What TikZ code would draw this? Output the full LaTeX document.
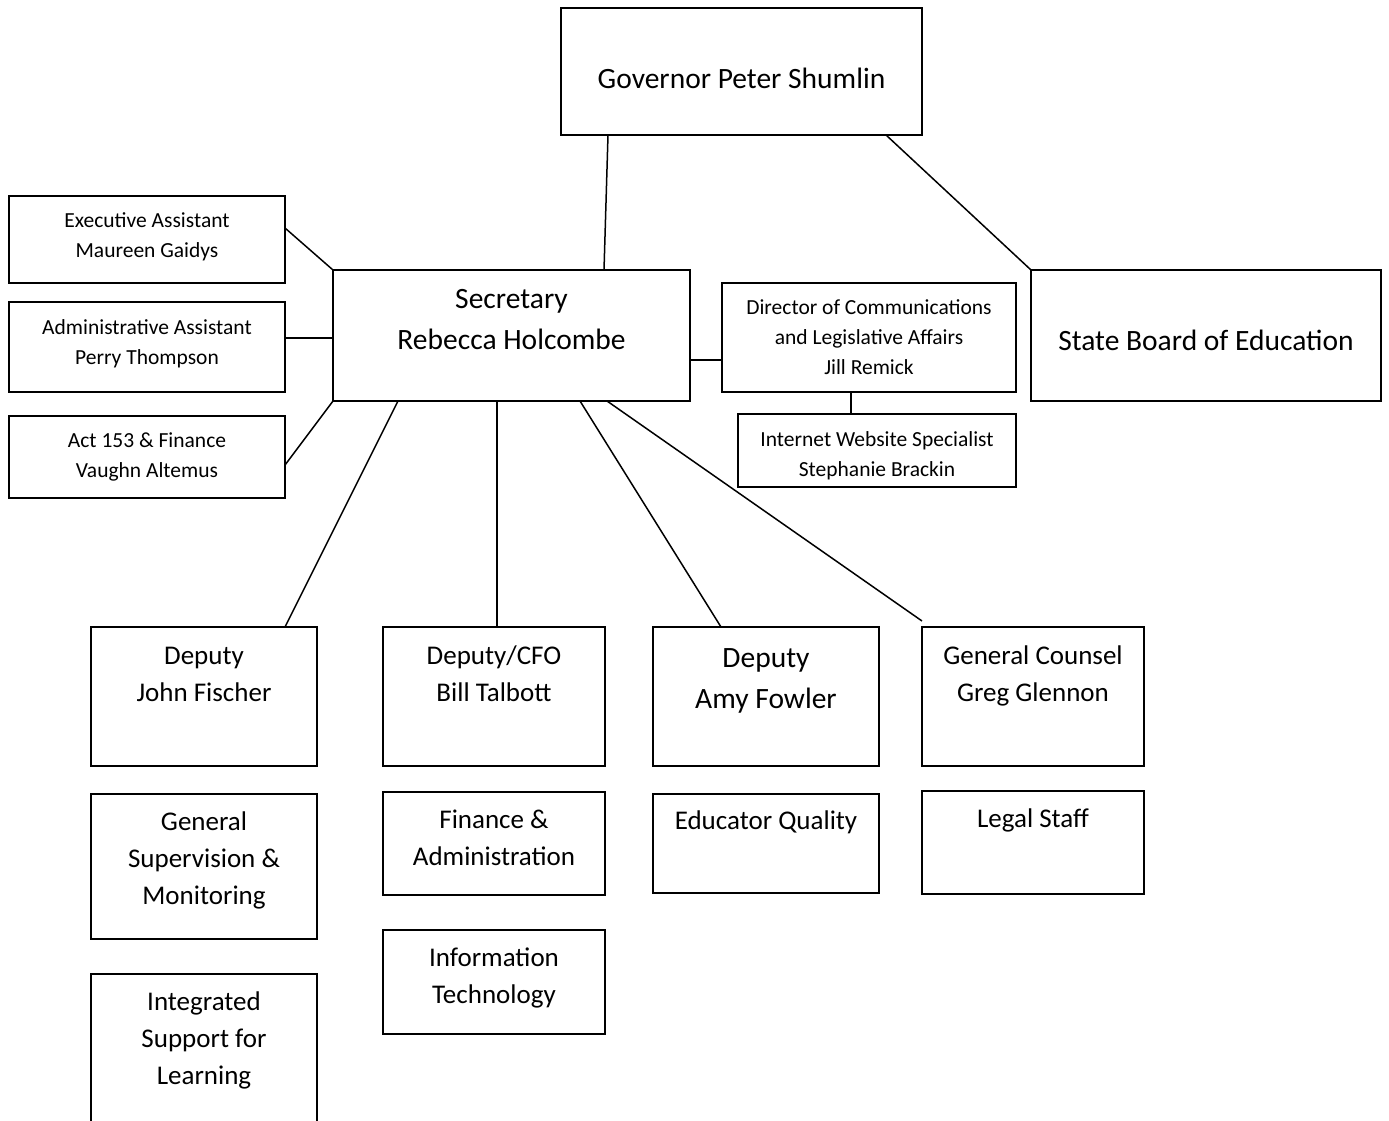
\documentclass[tikz,border=0pt]{standalone}
\usepackage{fontspec}
\setmainfont{Carlito}
\usetikzlibrary{calc}
\begin{document}
\begin{tikzpicture}[x=1pt,y=-1pt,
  box/.style={draw, line width=1.8pt, inner sep=0pt, outer sep=0pt},
  conn/.style={line width=1.5pt},
  txt/.style={align=center, anchor=base, inner sep=0pt, yshift=-1.5pt},
  big/.style={txt, font=\fontsize{29.5}{41.8}\selectfont},
  mid/.style={txt, font=\fontsize{27}{37}\selectfont},
  sml/.style={txt, font=\fontsize{21.5}{30}\selectfont}]
\useasboundingbox (0,0) rectangle (1389,1121);
\clip (0,0) rectangle (1389,1121);
% boxes
\node[box, minimum width=361pt, minimum height=127pt] (gov) at (741.5,71.5) {};
\node[box, minimum width=357pt, minimum height=131pt] (sec) at (511.5,335.5) {};
\node[box, minimum width=350pt, minimum height=131pt] (sbe) at (1206,335.5) {};
\node[box, minimum width=276pt, minimum height=87pt] (exa) at (147,239.5) {};
\node[box, minimum width=276pt, minimum height=90pt] (ada) at (147,347) {};
\node[box, minimum width=276pt, minimum height=82pt] (act) at (147,457) {};
\node[box, minimum width=294pt, minimum height=109pt] (dir) at (869,337.5) {};
\node[box, minimum width=278pt, minimum height=73pt] (web) at (877,450.5) {};
\node[box, minimum width=226pt, minimum height=139pt] (fis) at (204,696.5) {};
\node[box, minimum width=222pt, minimum height=139pt] (cfo) at (494,696.5) {};
\node[box, minimum width=226pt, minimum height=139pt] (fow) at (766,696.5) {};
\node[box, minimum width=222pt, minimum height=139pt] (gc) at (1033,696.5) {};
\node[box, minimum width=226pt, minimum height=145pt] (gsm) at (204,866.5) {};
\node[box, minimum width=226pt, minimum height=161pt] (isl) at (204,1054.5) {};
\node[box, minimum width=222pt, minimum height=103pt] (fa) at (494,843.5) {};
\node[box, minimum width=222pt, minimum height=104pt] (it) at (494,982) {};
\node[box, minimum width=226pt, minimum height=99pt] (eq) at (766,843.5) {};
\node[box, minimum width=222pt, minimum height=103pt] (ls) at (1033,842.5) {};
% texts (y = baseline of last line)
\node[big] (govt) at (741.5,87) {Governor Peter Shumlin};
\node[big] (sect) at (511.5,348.3) {Secretary\\Rebecca Holcombe};
\node[big] (sbet) at (1206,349.3) {State Board of Education};
\node[sml] (exat) at (147,256) {Executive Assistant\\Maureen Gaidys};
\node[sml] (adat) at (147,362.7) {Administrative Assistant\\Perry Thompson};
\node[sml] (actt) at (147,476) {Act 153 \& Finance\\Vaughn Altemus};
\node[sml] (dirt) at (869,373.3) {Director of Communications\\and Legislative Affairs\\Jill Remick};
\node[sml] (webt) at (877,475) {Internet Website Specialist\\Stephanie Brackin};
\node[mid] (fist) at (204,700) {Deputy\\John Fischer};
\node[mid] (cfot) at (494,700) {Deputy/CFO\\Bill Talbott};
\node[big] (fowt) at (766,707.3) {Deputy\\Amy Fowler};
\node[mid] (gct) at (1033,700) {General Counsel\\Greg Glennon};
\node[mid] (gsmt) at (204,903) {General\\Supervision \&\\Monitoring};
\node[mid] (islt) at (204,1083) {Integrated\\Support for\\Learning};
\node[mid] (fat) at (494,864) {Finance \&\\Administration};
\node[mid] (itt) at (494,1002) {Information\\Technology};
\node[mid] (eqt) at (766,828.3) {Educator Quality};
\node[mid] (lst) at (1033,826) {Legal Staff};
% connectors
\draw[conn] ($(gov.south west)+(47,0)$) -- ($(sec.north west)+(271,0)$);
\draw[conn] ($(gov.south east)+(-36,0)$) -- (sbe.north west);
\draw[conn] ($(exa.north east)+(0,32)$) -- (sec.north west);
\draw[conn] ($(ada.east)+(0,-9)$) -- ($(sec.west)+(0,2.5)$);
\draw[conn] ($(act.east)+(0,8)$) -- (sec.south west);
\draw[conn] ($(sec.east)+(0,24.5)$) -- ($(dir.west)+(0,22.5)$);
\draw[conn] ($(dir.south)+(-18,0)$) -- ($(web.north)+(-26,0)$);
\draw[conn] ($(sec.south west)+(65,0)$) -- ($(fis.north east)+(-32,0)$);
\draw[conn] ($(sec.south west)+(164,0)$) -- ($(cfo.north)+(3,0)$);
\draw[conn] ($(sec.south west)+(247,0)$) -- ($(fow.north west)+(68,0)$);
\draw[conn] ($(sec.south west)+(274,0)$) -- ($(gc.north west)+(0,-6)$);
\end{tikzpicture}
\end{document}
